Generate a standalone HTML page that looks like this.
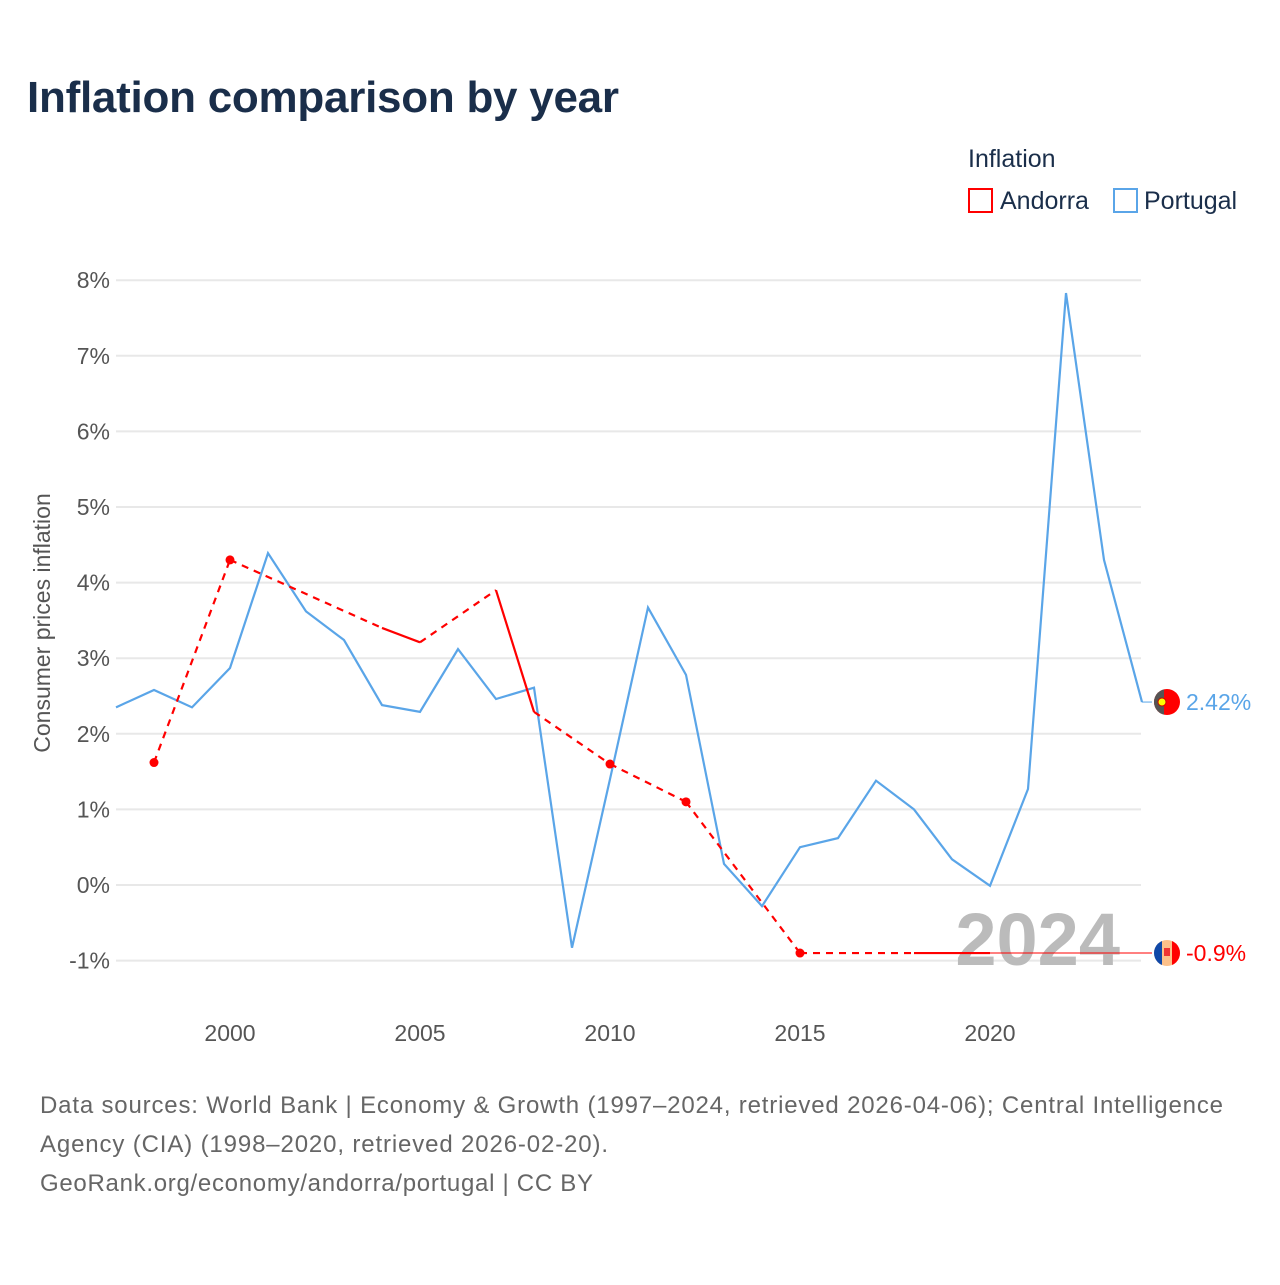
<!DOCTYPE html>
<html><head><meta charset="utf-8"><style>
body{margin:0;background:#fff;font-family:"Liberation Sans",sans-serif;}
svg text{font-family:"Liberation Sans",sans-serif;}
</style></head><body>
<svg width="1280" height="1280" viewBox="0 0 1280 1280">
<defs>
<clipPath id="cpP"><circle cx="1167" cy="702" r="13"/></clipPath>
<clipPath id="cpA"><circle cx="1167" cy="953" r="13"/></clipPath>
</defs>
<text x="27" y="112" font-size="44" font-weight="bold" fill="#1a2e4a" textLength="592">Inflation comparison by year</text>
<text x="968" y="167" font-size="25" fill="#1a2e4a">Inflation</text>
<g><rect x="969" y="189" width="23" height="23" fill="none" stroke="#f00" stroke-width="2"/><text x="1000" y="209" font-size="25" fill="#1a2e4a">Andorra</text></g>
<g><rect x="1114" y="189" width="23" height="23" fill="none" stroke="#5aa5e8" stroke-width="2"/><text x="1144" y="209" font-size="25" fill="#1a2e4a">Portugal</text></g>
<g id="grid"></g>
<g id="yt"></g>
<g id="xt"></g>
<text transform="translate(50,623) rotate(-90)" text-anchor="middle" font-size="23" fill="#555">Consumer prices inflation</text>
<text x="1120" y="965" text-anchor="end" font-size="74" font-weight="bold" fill="#bbb">2024</text>
<g id="series"></g>
<g>
<g clip-path="url(#cpP)"><rect x="1154" y="689" width="26" height="26" fill="#f00"/><rect x="1154" y="689" width="10" height="26" fill="#555"/></g>
<circle cx="1162" cy="702" r="4" fill="#ff0" stroke="#c00"/>
<text x="1186" y="710" font-size="23" fill="#5aa5e8">2.42%</text></g>
<g>
<g clip-path="url(#cpA)"><rect x="1154" y="940" width="26" height="26" fill="#fcc08a"/><rect x="1154" y="940" width="8" height="26" fill="#1048a8"/><rect x="1172" y="940" width="8" height="26" fill="#f00"/></g>
<rect x="1164" y="948" width="6" height="8" fill="#e33"/>
<text x="1186" y="961" font-size="23" fill="#f00">-0.9%</text></g>
<text x="40" y="1113" font-size="24" fill="#666" textLength="1183">Data sources: World Bank | Economy &amp; Growth (1997–2024, retrieved 2026-04-06); Central Intelligence</text>
<text x="40" y="1152" font-size="24" fill="#666" textLength="568">Agency (CIA) (1998–2020, retrieved 2026-02-20).</text>
<text x="40" y="1191" font-size="24" fill="#666" textLength="553">GeoRank.org/economy/andorra/portugal | CC BY</text>
</svg>
<script>
const yTicks=[-1,0,1,2,3,4,5,6,7,8];
const xTicks=[2000,2005,2010,2015,2020];
const ptYears=[1997,1998,1999,2000,2001,2002,2003,2004,2005,2006,2007,2008,2009,2010,2011,2012,2013,2014,2015,2016,2017,2018,2019,2020,2021,2022,2023,2024];
const ptValues=[2.35,2.58,2.35,2.87,4.39,3.62,3.24,2.38,2.29,3.12,2.46,2.61,-0.83,1.40,3.67,2.78,0.28,-0.28,0.50,0.62,1.38,1.00,0.34,-0.01,1.27,7.83,4.30,2.42];
const adYears=[1998,2000,2004,2005,2007,2008,2010,2012,2015,2018,2019,2020];
const adValues=[1.62,4.30,3.40,3.21,3.90,2.29,1.60,1.10,-0.90,-0.90,-0.90,-0.90];
const X=y=>116+(y-1997)*38, Y=v=>885-v*75.6;
const NS="http://www.w3.org/2000/svg";
function mk(t,a,p){const e=document.createElementNS(NS,t);for(const k in a)e.setAttribute(k,a[k]);p.appendChild(e);return e;}
const g=document.getElementById('grid'),yt=document.getElementById('yt'),xt=document.getElementById('xt'),s=document.getElementById('series');
yTicks.forEach(v=>{const l=mk('line',{x1:116,x2:1141,y1:Y(v),y2:Y(v),stroke:'#e8e8e8','stroke-width':2},g);


const t=mk('text',{x:110,y:Y(v)+8,'text-anchor':'end','font-size':23,fill:'#555'},yt);t.textContent=v+'%';

});
xTicks.forEach(v=>{const t=mk('text',{x:X(v),y:1041,'text-anchor':'middle','font-size':23,fill:'#555'},xt);t.textContent=v;

});
const pl=mk('polyline',{points:ptYears.map((y,i)=>X(y)+','+Y(ptValues[i])).join(' '),fill:'none',stroke:'#5aa5e8','stroke-width':2.2},s);


mk('line',{x1:X(2024),x2:1152,y1:Y(2.42),y2:Y(2.42),stroke:'#5aa5e8','stroke-width':1},s);
for(let i=0;i<adYears.length-1;i++){const gap=adYears[i+1]-adYears[i]>1;
const l=mk('line',{x1:X(adYears[i]),y1:Y(adValues[i]),x2:X(adYears[i+1]),y2:Y(adValues[i+1]),stroke:'#f00','stroke-width':2.2,'stroke-dasharray':gap?'7 6':'none'},s);

}
adYears.forEach((y,i)=>{const iso=(i==0||adYears[i]-adYears[i-1]>1)&&(i==adYears.length-1||adYears[i+1]-adYears[i]>1);
if(iso){const c=mk('circle',{cx:X(y),cy:Y(adValues[i]),r:4.5,fill:'#f00'},s);

}});
const last=adYears.length-1;
mk('line',{x1:X(adYears[last]),x2:1152,y1:Y(adValues[last]),y2:Y(adValues[last]),stroke:'#f00','stroke-width':1},s);
</script>
</body></html>
